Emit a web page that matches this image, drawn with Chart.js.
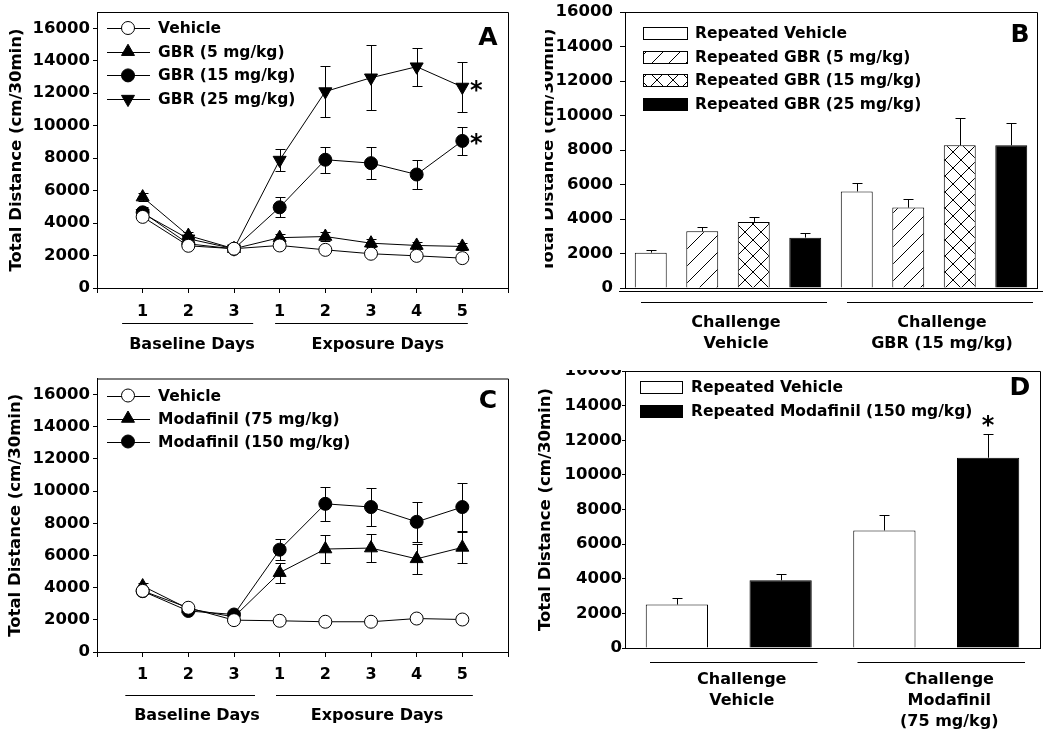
<!DOCTYPE html>
<html>
<head>
<meta charset="utf-8">
<script src="https://cdn.jsdelivr.net/npm/chart.js@4.4.1/dist/chart.umd.min.js"></script>
<style>
  html, body { margin: 0; padding: 0; background: #fff; }
  #wrap { position: relative; width: 1050px; height: 739px; overflow: hidden; background: #fff; }
  #wrap canvas { position: absolute; }
</style>
</head>
<body>
<div id="wrap">
  <canvas id="chartA" width="525" height="370" style="left:0;top:0;width:525px;height:370px"></canvas>
  <canvas id="chartB" width="505" height="370" style="left:545px;top:0;width:505px;height:370px"></canvas>
  <canvas id="chartC" width="525" height="369" style="left:0;top:370px;width:525px;height:369px"></canvas>
  <canvas id="chartD" width="525" height="369" style="left:525px;top:370px;width:525px;height:369px"></canvas>
</div>
<script>
// ---- data ----
const dayPos = [1, 2, 3, 4, 5, 6, 7, 8];
const dayLabels = ['1', '2', '3', '1', '2', '3', '4', '5'];
const yTickValues = [0, 2000, 4000, 6000, 8000, 10000, 12000, 14000, 16000];

// Panel A: GBR exposure
const aVehicle    = [4380, 2600, 2420, 2620, 2350, 2110, 1980, 1840];
const aVehicleErr = [150, 150, 120, 150, 130, 130, 120, 120];
const aGbr5       = [5600, 3230, 2420, 3100, 3170, 2760, 2620, 2560];
const aGbr5Err    = [250, 200, 150, 250, 300, 250, 200, 200];
const aGbr15      = [4660, 2720, 2410, 4970, 7900, 7690, 6990, 9060];
const aGbr15Err   = [300, 200, 150, 610, 790, 970, 880, 860];
const aGbr25      = [4600, 3030, 2420, 7880, 12100, 12950, 13630, 12380];
const aGbr25Err   = [300, 200, 150, 680, 1550, 2000, 1170, 1560];

// Panel B: GBR challenge
const bGroups    = [['Challenge', 'Vehicle'], ['Challenge', 'GBR (15 mg/kg)']];
const bVehicle   = [2050, 5600];
const bVehicleErr = [170, 480];
const bGbr5      = [3290, 4660];
const bGbr5Err   = [250, 480];
const bGbr15     = [3830, 8270];
const bGbr15Err  = [290, 1600];
const bGbr25     = [2920, 8270];
const bGbr25Err  = [290, 1310];

// Panel C: modafinil exposure
const cVehicle    = [3800, 2750, 1980, 1940, 1880, 1880, 2080, 2020];
const cVehicleErr = [150, 150, 100, 100, 100, 100, 120, 150];
const cMod75      = [4100, 2690, 2180, 4930, 6400, 6460, 5790, 6500];
const cMod75Err   = [200, 150, 150, 620, 850, 870, 920, 970];
const cMod150     = [3780, 2550, 2330, 6360, 9210, 9010, 8090, 9010];
const cMod150Err  = [200, 150, 150, 670, 1060, 1200, 1250, 1500];

// Panel D: modafinil challenge
const dGroups     = [['Challenge', 'Vehicle'], ['Challenge', 'Modafinil', '(75 mg/kg)']];
const dVehicle    = [2510, 6790];
const dVehicleErr = [380, 920];
const dMod150     = [3910, 10990];
const dMod150Err  = [350, 1350];

// ---- shared style ----
const FAMILY = '"DejaVu Sans", sans-serif';
Chart.defaults.font.family = FAMILY;
Chart.defaults.color = '#000';

function hatch(kind) {
  const s = kind === 'diag' ? 17 : 16;
  const c = document.createElement('canvas');
  c.width = s; c.height = s;
  const g = c.getContext('2d');
  g.fillStyle = '#fff';
  g.fillRect(0, 0, s, s);
  g.strokeStyle = '#000';
  g.lineWidth = 1;
  g.beginPath();
  g.moveTo(0, s); g.lineTo(s, 0);
  g.moveTo(-s, s); g.lineTo(s, -s);
  g.moveTo(0, 2 * s); g.lineTo(2 * s, 0);
  if (kind === 'cross') {
    g.moveTo(0, 0); g.lineTo(s, s);
    g.moveTo(-s, 0); g.lineTo(s, 2 * s);
    g.moveTo(0, -s); g.lineTo(2 * s, s);
  }
  g.stroke();
  return g.createPattern(c, 'repeat');
}
const diagFill = hatch('diag');
const crossFill = hatch('cross');

function drawMarker(ctx, style, x, y, r, fill, rot) {
  ctx.beginPath();
  if (style === 'triangle') {
    let rad = (rot || 0) * Math.PI / 180;
    ctx.moveTo(x + Math.sin(rad) * r, y - Math.cos(rad) * r);
    rad += 2 * Math.PI / 3;
    ctx.lineTo(x + Math.sin(rad) * r, y - Math.cos(rad) * r);
    rad += 2 * Math.PI / 3;
    ctx.lineTo(x + Math.sin(rad) * r, y - Math.cos(rad) * r);
    ctx.closePath();
  } else {
    ctx.arc(x, y, r, 0, Math.PI * 2);
  }
  ctx.fillStyle = fill;
  ctx.fill();
  ctx.stroke();
}

const valueOf = d => (typeof d === 'object' ? d.y : d);

// error bars, frame, legend, group labels, asterisks, panel letter
const decor = {
  id: 'decor',
  beforeDatasetsDraw(chart, args, o) {
    const ctx = chart.ctx, ys = chart.scales.y;
    ctx.save();
    ctx.strokeStyle = '#000';
    ctx.lineWidth = 1;
    chart.data.datasets.forEach((ds, i) => {
      if (!ds.err) return;
      chart.getDatasetMeta(i).data.forEach((el, j) => {
        const v = valueOf(ds.data[j]);
        const e = ds.err[j];
        const x = Math.round(el.x) + 0.5;
        const yTop = Math.round(ys.getPixelForValue(v + e)) + 0.5;
        const yBot = o.bothWays ? Math.round(ys.getPixelForValue(v - e)) + 0.5 : ys.getPixelForValue(v);
        ctx.beginPath();
        ctx.moveTo(x, yBot); ctx.lineTo(x, yTop);
        ctx.moveTo(x - o.cap, yTop); ctx.lineTo(x + o.cap, yTop);
        if (o.bothWays) { ctx.moveTo(x - o.cap, yBot); ctx.lineTo(x + o.cap, yBot); }
        ctx.stroke();
      });
    });
    ctx.restore();
  },
  afterDraw(chart, args, o) {
    const ctx = chart.ctx, a = chart.chartArea, xs = chart.scales.x, ys = chart.scales.y;
    ctx.save();
    ctx.strokeStyle = '#000';
    ctx.lineWidth = 1;
    // frame top and right
    ctx.beginPath();
    ctx.moveTo(a.left, a.top + 0.5);
    ctx.lineTo(Math.round(a.right) + 0.5, a.top + 0.5);
    ctx.lineTo(Math.round(a.right) + 0.5, a.bottom);
    if (o.doubleBase) {
      ctx.moveTo(a.left - 6, a.bottom + 3.5);
      ctx.lineTo(a.right + 6, a.bottom + 3.5);
    }
    ctx.stroke();

    ctx.fillStyle = '#000';
    ctx.font = 'bold 16px ' + FAMILY;
    ctx.textAlign = 'center';
    ctx.textBaseline = 'middle';

    // group lines under the axis
    if (o.groups) {
      o.groups.forEach(g => {
        const y = Math.round(a.bottom + o.groupLineY) + 0.5;
        ctx.beginPath();
        ctx.moveTo(xs.getPixelForValue(g.from), y);
        ctx.lineTo(xs.getPixelForValue(g.to), y);
        ctx.stroke();
        ctx.fillText(g.text, xs.getPixelForValue(g.at), a.bottom + o.groupTextY);
      });
    }
    if (o.catLines) {
      const n = chart.data.labels.length;
      const half = (a.right - a.left) / (2 * n);
      const y = Math.round(a.bottom + o.catLines.y) + 0.5;
      chart.data.labels.forEach((l, i) => {
        const c = xs.getPixelForValue(i);
        ctx.beginPath();
        ctx.moveTo(c - half + o.catLines.inL, y);
        ctx.lineTo(c + half - o.catLines.inR, y);
        ctx.stroke();
      });
    }

    // legend
    const lg = o.legend;
    ctx.textAlign = 'left';
    ctx.font = 'bold 15.5px ' + FAMILY;
    chart.data.datasets.forEach((ds, i) => {
      const y = a.top + lg.y0 + i * lg.dy;
      if (lg.kind === 'line') {
        ctx.beginPath();
        ctx.moveTo(a.left + lg.from, Math.round(y) + 0.5);
        ctx.lineTo(a.left + lg.to, Math.round(y) + 0.5);
        ctx.stroke();
        drawMarker(ctx, ds.pointStyle, a.left + lg.mark, y, ds.pointRadius, ds.pointBackgroundColor, ds.pointRotation);
      } else {
        const x0 = Math.round(a.left + lg.from) + 0.5;
        const y0 = Math.round(y - lg.boxH / 2) + 0.5;
        ctx.fillStyle = ds.backgroundColor;
        ctx.fillRect(x0, y0, lg.to - lg.from, lg.boxH);
        ctx.strokeRect(x0, y0, lg.to - lg.from, lg.boxH);
      }
      ctx.fillStyle = '#000';
      ctx.fillText(ds.label, a.left + lg.text, y + 1);
    });

    // asterisks
    ctx.textAlign = 'center';
    ctx.textBaseline = 'alphabetic';
    ctx.font = 'bold 24px ' + FAMILY;
    (o.stars || []).forEach(s => {
      const ds = chart.data.datasets[s.ds];
      const el = chart.getDatasetMeta(s.ds).data[s.idx];
      const v = valueOf(ds.data[s.idx]);
      const yc = s.above ? ys.getPixelForValue(v + ds.err[s.idx]) + s.dy : el.y + s.dy;
      ctx.fillText('*', el.x + s.dx, yc + 13);
    });

    // panel letter
    ctx.font = 'bold 25px ' + FAMILY;
    ctx.textBaseline = 'middle';
    ctx.fillText(o.letter, a.right + o.letterDx, a.top + o.letterDy);
    ctx.restore();
  }
};

function yAxis(p, max) {
  return {
    type: 'linear', min: 0, max: max,
    afterBuildTicks: s => { s.ticks = yTickValues.map(v => ({ value: v })); },
    afterFit: s => { s.width = p.left; s.paddingTop = 0; s.paddingBottom = 0; },
    border: { display: true, color: '#000', width: 1 },
    grid: { display: true, drawOnChartArea: false, drawTicks: true, tickLength: p.yTick, color: '#000' },
    ticks: { padding: p.yPad, color: '#000', callback: v => String(v),
             font: { size: 16.5, weight: 'bold' } },
    title: { display: true, text: 'Total Distance (cm/30min)', color: '#000',
             font: { size: 16.5, weight: 'bold', lineHeight: 1.2 },
             padding: { top: p.titleCenter - 9.9, bottom: 0 } }
  };
}

function lineChart(id, p, datasets, deco) {
  return new Chart(document.getElementById(id), {
    type: 'line',
    data: { datasets: datasets },
    options: {
      responsive: false, animation: false, devicePixelRatio: 1,
      layout: { padding: { left: 0, top: p.top, right: p.w - p.right, bottom: 0 } },
      plugins: { legend: { display: false }, tooltip: { enabled: false }, decor: deco },
      scales: {
        x: {
          type: 'linear', min: 0, max: 9,
          afterFit: s => { s.height = p.h - p.bottom; s.paddingLeft = 0; s.paddingRight = 0; },
          border: { display: true, color: '#000', width: 1 },
          grid: { display: true, drawOnChartArea: false, drawTicks: true, tickLength: 5, color: '#000' },
          ticks: { stepSize: 1, autoSkip: false, maxRotation: 0, padding: p.xPad, color: '#000',
                   font: { size: 16, weight: 'bold' },
                   callback: v => dayLabels[dayPos.indexOf(v)] || '' }
        },
        y: yAxis(p, 17000)
      }
    },
    plugins: [decor]
  });
}

function barChart(id, p, labels, datasets, deco) {
  return new Chart(document.getElementById(id), {
    type: 'bar',
    data: { labels: labels, datasets: datasets },
    options: {
      responsive: false, animation: false, devicePixelRatio: 1,
      layout: { padding: { left: 0, top: p.top, right: p.w - p.right, bottom: 0 } },
      datasets: { bar: { categoryPercentage: 1, barPercentage: p.barPct, borderColor: '#000', borderWidth: 1 } },
      plugins: { legend: { display: false }, tooltip: { enabled: false }, decor: deco },
      scales: {
        x: {
          type: 'category', offset: true,
          afterFit: s => { s.height = p.h - p.bottom; s.paddingLeft = 0; s.paddingRight = 0; },
          border: { display: true, color: '#000', width: 1 },
          grid: { display: false, drawTicks: false },
          ticks: { autoSkip: false, maxRotation: 0, padding: p.xPad, labelOffset: p.labelOffset, color: '#000',
                   font: { size: 16, weight: 'bold', lineHeight: 1.3 } }
        },
        y: yAxis(p, 16000)
      }
    },
    plugins: [decor]
  });
}

const pts = arr => arr.map((v, i) => ({ x: dayPos[i], y: v }));
const lineSet = (label, values, err, style, fill, r, rot) => ({
  label: label, data: pts(values), err: err,
  borderColor: '#000', borderWidth: 1, tension: 0,
  pointStyle: style, pointRadius: r, pointRotation: rot || 0,
  pointBackgroundColor: fill, pointBorderColor: '#000', pointBorderWidth: 1
});
const barSet = (label, values, err, fill) => ({ label: label, data: values, err: err, backgroundColor: fill });

// ---- panel A ----
lineChart('chartA',
  { w: 525, h: 370, left: 97, right: 508, top: 12, bottom: 288, titleCenter: 17, yTick: 4, yPad: 3, xPad: 9 },
  [
    lineSet('Vehicle', aVehicle, aVehicleErr, 'circle', '#fff', 6.5),
    lineSet('GBR (5 mg/kg)', aGbr5, aGbr5Err, 'triangle', '#000', 7.5),
    lineSet('GBR (15 mg/kg)', aGbr15, aGbr15Err, 'circle', '#000', 6.5),
    lineSet('GBR (25 mg/kg)', aGbr25, aGbr25Err, 'triangle', '#000', 7.5, 180)
  ],
  {
    bothWays: true, cap: 5, letter: 'A', letterDx: -20, letterDy: 26,
    legend: { kind: 'line', from: 10, to: 53, mark: 31, text: 61, y0: 16, dy: 23.7 },
    groups: [
      { from: 0.55, to: 3.42, at: 2.08, text: 'Baseline Days' },
      { from: 3.9, to: 8.12, at: 6.15, text: 'Exposure Days' }
    ],
    groupLineY: 35, groupTextY: 57,
    stars: [{ ds: 3, idx: 7, dx: 14, dy: -2 }, { ds: 2, idx: 7, dx: 14, dy: -3 }]
  });

// ---- panel B ----
barChart('chartB',
  { w: 505, h: 370, left: 80, right: 492, top: 12, bottom: 288, titleCenter: 4, yTick: 5, yPad: 7,
    xPad: 24.6, labelOffset: 8, barPct: 0.62 },
  bGroups,
  [
    barSet('Repeated Vehicle', bVehicle, bVehicleErr, '#fff'),
    barSet('Repeated GBR (5 mg/kg)', bGbr5, bGbr5Err, diagFill),
    barSet('Repeated GBR (15 mg/kg)', bGbr15, bGbr15Err, crossFill),
    barSet('Repeated GBR (25 mg/kg)', bGbr25, bGbr25Err, '#000')
  ],
  {
    bothWays: false, cap: 5, letter: 'B', letterDx: -17, letterDy: 23, doubleBase: true,
    legend: { kind: 'box', from: 18, to: 62, boxH: 12, text: 70, y0: 21, dy: 23.7 },
    catLines: { y: 14, inL: 16, inR: 4 }
  });

// ---- panel C ----
lineChart('chartC',
  { w: 525, h: 369, left: 97, right: 508, top: 5, bottom: 282, titleCenter: 16, yTick: 4, yPad: 3, xPad: 8 },
  [
    lineSet('Vehicle', cVehicle, cVehicleErr, 'circle', '#fff', 6.5),
    lineSet('Modafinil (75 mg/kg)', cMod75, cMod75Err, 'triangle', '#000', 7.5),
    lineSet('Modafinil (150 mg/kg)', cMod150, cMod150Err, 'circle', '#000', 6.5)
  ],
  {
    bothWays: true, cap: 5, letter: 'C', letterDx: -20, letterDy: 23,
    legend: { kind: 'line', from: 10, to: 53, mark: 31, text: 61, y0: 17, dy: 23 },
    groups: [
      { from: 0.62, to: 3.46, at: 2.19, text: 'Baseline Days' },
      { from: 3.92, to: 8.23, at: 6.13, text: 'Exposure Days' }
    ],
    groupLineY: 43, groupTextY: 64
  });

// ---- panel D ----
barChart('chartD',
  { w: 525, h: 369, left: 100, right: 515, top: 1, bottom: 278, titleCenter: 21, yTick: 3, yPad: 0,
    xPad: 21.6, labelOffset: 13, barPct: 0.6 },
  dGroups,
  [
    barSet('Repeated Vehicle', dVehicle, dVehicleErr, '#fff'),
    barSet('Repeated Modafinil (150 mg/kg)', dMod150, dMod150Err, '#000')
  ],
  {
    bothWays: false, cap: 5, letter: 'D', letterDx: -20, letterDy: 17,
    legend: { kind: 'box', from: 15, to: 57, boxH: 12, text: 66, y0: 16, dy: 24 },
    catLines: { y: 14, inL: 25, inR: 15 },
    stars: [{ ds: 1, idx: 1, dx: 0, dy: -14, above: true }]
  });
</script>
</body>
</html>
